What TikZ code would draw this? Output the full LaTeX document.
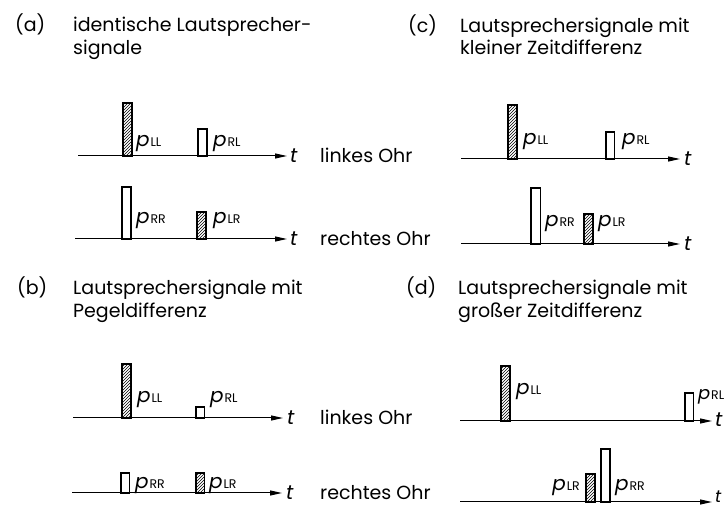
\documentclass[tikz,border=0pt]{standalone}
\usepackage{fontspec}
\setmainfont{Poppins}
\usetikzlibrary{arrows.meta,patterns}
\newcommand\plab[1]{\textit{p}\kern0.8pt{\fontsize{12.5}{12.5}\selectfont #1}}
\begin{document}
\begin{tikzpicture}[x=1pt,y=-1pt,
  axis/.style={line width=1pt,-{Triangle[length=12pt,width=5pt]}},
  hbar/.style={draw,line width=1.3pt,pattern=north east lines,inner sep=0pt,outer sep=0pt,anchor=south west,minimum width=9pt},
  obar/.style={draw,line width=1.3pt,fill=white,inner sep=0pt,outer sep=0pt,anchor=south west,minimum width=9pt},
  ttl/.style={anchor=base west,inner sep=0pt,font=\fontsize{19}{23}\selectfont},
  lab/.style={anchor=base west,inner sep=0pt,font=\fontsize{20}{24}\selectfont},
  ear/.style={anchor=base west,inner sep=0pt,font=\fontsize{19}{23}\selectfont},
]
\useasboundingbox (0,0) rectangle (726,510);
% ---------------- panel (a)
\node[ttl] (ta0) at (15,32) {(a)};
\node[ttl] (ta1) at (73,32) {identische Lautsprecher-};
\node[ttl] (ta2) at (73,55) {signale};
\coordinate (a1s) at (78,156); \coordinate (a1e) at (287,156);
\coordinate (a2s) at (75,239); \coordinate (a2e) at (287,239);
\draw[axis] (a1s) -- (a1e);
\draw[axis] (a2s) -- (a2e);
\node[hbar,minimum height=53pt] (aLL) at (123,156) {};
\node[obar,minimum height=27pt] (aRL) at (198,156) {};
\node[obar,minimum height=52pt] (aRR) at (122,239) {};
\node[hbar,minimum height=27pt] (aLR) at (197,239) {};
\node[lab] (laLL) at (136,147) {\plab{LL}};
\node[lab] (laRL) at (213,147) {\plab{RL}};
\node[lab] (laRR) at (136,224) {\plab{RR}};
\node[lab] (laLR) at (213,224) {\plab{LR}};
\node[lab] (at1) at (290,162.5) {\textit{t}};
\node[lab] (at2) at (290,245.5) {\textit{t}};
\node[ear] (e1) at (320,162.5) {linkes Ohr};
\node[ear] (e2) at (320,245.5) {rechtes Ohr};
% ---------------- panel (b)
\node[ttl] (tb0) at (17,295) {(b)};
\node[ttl] (tb1) at (73,295) {Lautsprechersignale mit};
\node[ttl] (tb2) at (73,318) {Pegeldifferenz};
\coordinate (b1s) at (73,418); \coordinate (b1e) at (283,418);
\coordinate (b2s) at (72,493); \coordinate (b2e) at (282,493);
\draw[axis] (b1s) -- (b1e);
\draw[axis] (b2s) -- (b2e);
\node[hbar,minimum height=54pt] (bLL) at (122,418) {};
\node[obar,minimum height=11pt,minimum width=8.5pt] (bRL) at (196,418) {};
\node[obar,minimum height=20pt,minimum width=8.5pt] (bRR) at (121,493) {};
\node[hbar,minimum height=20pt,minimum width=8.5pt] (bLR) at (196,493) {};
\node[lab] (lbLL) at (137,403) {\plab{LL}};
\node[lab] (lbRL) at (210,403) {\plab{RL}};
\node[lab] (lbRR) at (135,489) {\plab{RR}};
\node[lab] (lbLR) at (209,489) {\plab{LR}};
\node[lab] (bt1) at (287,424.5) {\textit{t}};
\node[lab] (bt2) at (286,499.5) {\textit{t}};
\node[ear] (e3) at (320,424.5) {linkes Ohr};
\node[ear] (e4) at (320,499.5) {rechtes Ohr};
% ---------------- panel (c)
\node[ttl] (tc0) at (408,33) {(c)};
\node[ttl] (tc1) at (460,33) {Lautsprechersignale mit};
\node[ttl] (tc2) at (460,55) {kleiner Zeitdifferenz};
\coordinate (c1s) at (461,159); \coordinate (c1e) at (680,159);
\coordinate (c2s) at (461,244); \coordinate (c2e) at (680,244);
\draw[axis] (c1s) -- (c1e);
\draw[axis] (c2s) -- (c2e);
\node[hbar,minimum height=54pt] (cLL) at (508,159) {};
\node[obar,minimum height=27pt,minimum width=8.5pt] (cRL) at (606,159) {};
\node[obar,minimum height=56pt,minimum width=9.5pt] (cRR) at (531,244) {};
\node[hbar,minimum height=30pt] (cLR) at (584,244) {};
\node[lab] (lcLL) at (523,145) {\plab{LL}};
\node[lab] (lcRL) at (622,145) {\plab{RL}};
\node[lab] (lcRR) at (545,227) {\plab{RR}};
\node[lab] (lcLR) at (598,227) {\plab{LR}};
\node[lab] (ct1) at (684,165.5) {\textit{t}};
\node[lab] (ct2) at (684,250.5) {\textit{t}};
% ---------------- panel (d)
\node[ttl] (td0) at (406,295) {(d)};
\node[ttl] (td1) at (458,295) {Lautsprechersignale mit};
\node[ttl] (td2) at (458,318) {großer Zeitdifferenz};
\coordinate (d1s) at (460,421); \coordinate (d1e) at (712,421);
\coordinate (d2s) at (460,502); \coordinate (d2e) at (712,502);
\draw[axis] (d1s) -- (d1e);
\draw[axis] (d2s) -- (d2e);
\node[hbar,minimum height=55pt] (dLL) at (501,421) {};
\node[obar,minimum height=28pt,minimum width=8.5pt] (dRL) at (685,421) {};
\node[hbar,minimum height=28pt] (dLR) at (586,502) {};
\node[obar,minimum height=53pt] (dRR) at (601,502) {};
\node[lab] (ldLL) at (516,395) {\plab{LL}};
\node[lab,font=\fontsize{18}{20}\selectfont] (ldRL) at (698,400) {\plab{RL}};
\node[lab,anchor=base east] (ldLR) at (580,490) {\plab{LR}};
\node[lab] (ldRR) at (615,490) {\plab{RR}};
\node[lab] (dt1) at (715,427) {\textit{t}};
\node[lab,font=\fontsize{17}{19}\selectfont] (dt2) at (715,503) {\textit{t}};
\end{tikzpicture}
\end{document}
